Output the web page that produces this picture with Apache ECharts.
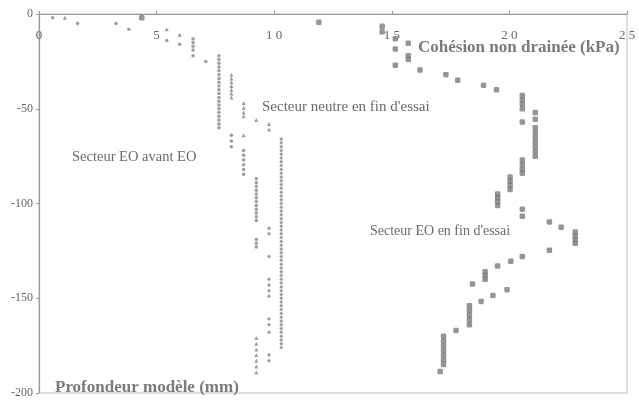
<!DOCTYPE html>
<html><head><meta charset="utf-8">
<script src="https://cdn.jsdelivr.net/npm/echarts@6/dist/echarts.min.js"></script>
<style>html,body{margin:0;padding:0;background:#fff}#c{width:639px;height:400px}</style>
</head><body><div id="c"></div>
<script>
// X tick labels
var xTicks = [0, 5, 10, 15, 20, 25];
var yTicks = [0, -50, -100, -150, -200];

// Secteur EO avant EO (small dots)
var avantX = [0.58,1.64,3.27,3.82,5.43,5.98,6.55,6.55,6.55,6.55,6.55,7.09,
  7.65,7.65,7.65,7.65,7.65,7.65,7.65,7.65,7.65,7.65,7.65,7.65,7.65,7.65,7.65,7.65,7.65,7.65,7.65,7.65,
  8.18,8.18,8.18,
  8.7,8.7,8.7,8.7,8.7,8.7,
  9.24,9.24,9.24,9.24,9.24,9.24,9.24,9.24,9.24,9.24,9.24,9.24,
  9.24,9.24,9.24];
var avantY = [-2,-5,-5,-8,-14,-16,-13,-15,-17,-19,-22,-25,
  -22,-24,-26,-28,-30,-32,-34,-36,-38,-40,-42,-44,-46,-48,-50,-52,-54,-56,-58,-60,
  -64,-67,-70,
  -72,-74.5,-77,-79.5,-82,-84.5,
  -87,-89,-91,-93,-95,-97,-99,-101,-103,-105,-107,-109,
  -119,-121,-123];

// Secteur neutre en fin d'essai (small triangles)
var neutreX = [1.1,5.43,5.98,
  8.18,8.18,8.18,8.18,8.18,8.18,8.18,
  8.7,8.7,8.7,8.7,
  9.24,9.78,9.78,8.7,
  9.24,9.24,9.24,9.24,9.24,9.24,9.24];
var neutreY = [-2,-8,-11,
  -32,-34,-36,-38,-40,-42,-44,
  -47,-49.5,-52,-54,
  -56,-58,-61,-64,
  -171,-174,-177,-180,-183,-186,-189];

// Third marker family (small crosses)
var croixX = [9.78,9.78,9.78,9.78,9.78,9.78,9.78,9.78,9.78,9.78,9.78,9.78,
  10.3,10.3,10.3,10.3,10.3,10.3,10.3,10.3,10.3,10.3,10.3,10.3,10.3,10.3,10.3,10.3,10.3,10.3,10.3,10.3,
  10.3,10.3,10.3,10.3,10.3,10.3,10.3,10.3,10.3,10.3,10.3,10.3,10.3,10.3,10.3,10.3,10.3,10.3,10.3,10.3,
  10.3,10.3,10.3,10.3,10.3,10.3,10.3,10.3,10.3,10.3,10.3,10.3,10.3,10.3,10.3,10.3];
var croixY = [-113,-116,-128,-140,-143,-146,-149,-161,-164,-168,-180,-183,
  -66,-68,-70,-72,-74,-76,-78,-80,-82,-84,-86,-88,-90,-92,-94,-96,-98,-100,-102,-104,
  -106,-108,-110,-112,-114,-116,-118,-120,-122,-124,-126,-128,-130,-132,-134,-136,-138,-140,-142,-144,
  -146,-148,-150,-152,-154,-156,-158,-160,-162,-164,-166,-168,-170,-172,-174,-176];

// Secteur EO en fin d'essai (squares)
var finX = [4.37,11.9,14.59,14.59,15.15,15.15,15.7,15.7,15.7,15.15,16.2,17.3,17.8,18.9,19.45,
  20.55,20.55,20.55,20.55,20.55,21.1,21.1,
  21.1,21.1,21.1,21.1,21.1,21.1,21.1,
  20.55,20.55,20.55,20.55,
  20.03,20.03,20.03,20.03,
  19.5,19.5,19.5,19.5,
  20.55,20.55,21.7,22.2,22.8,22.8,22.8,22.8,21.7,20.55,20.06,19.5,
  18.97,18.97,18.97,18.43,19.9,19.3,18.8,
  18.3,18.3,18.3,18.3,18.3,17.73,
  17.2,17.2,17.2,17.2,17.2,17.2,17.2,17.06];
var finY = [-2,-4.4,-6.5,-9.4,-13,-18.5,-15.5,-22,-24,-27,-29.6,-32,-35,-37.6,-40,
  -43,-45.3,-47.6,-50,-57,-52,-55.6,
  -60,-62.5,-65,-67.5,-70,-72.5,-75,
  -77,-79.5,-82,-84,
  -86,-88.3,-90.5,-92.6,
  -95,-97,-99,-101,
  -103,-106.7,-109.7,-112.5,-115,-117,-119,-121,-124.7,-128,-130.5,-133,
  -136,-138,-140,-142.5,-145.5,-148.5,-151.7,
  -154,-156.5,-159,-161.5,-164,-167,
  -170,-172.5,-175,-177.5,-180,-182.5,-185,-188.7];

function pairs(xs, ys) { return xs.map(function (x, i) { return [x, ys[i]]; }); }

var chart = echarts.init(document.getElementById('c'), null, {renderer: 'canvas'});
var serif = '"Liberation Serif", "DejaVu Serif", serif';
chart.setOption({
  animation: false,
  backgroundColor: '#fff',
  grid: {left: 39, top: 14, right: 12, bottom: 7, show: true, borderColor: '#bdbdbd', borderWidth: 1},
  xAxis: {
    type: 'value', position: 'top', min: xTicks[0], max: xTicks[xTicks.length - 1], interval: 5,
    axisLine: {lineStyle: {color: '#9a9a9a', width: 1.2}},
    axisTick: {show: true, length: 3, lineStyle: {color: '#9a9a9a'}},
    axisLabel: {inside: true, margin: 15, color: '#666', fontFamily: serif, fontSize: 13,
      formatter: function (v) { return String(v).split('').join(' '); }},
    splitLine: {show: false}
  },
  yAxis: {
    type: 'value', min: yTicks[yTicks.length - 1], max: yTicks[0], interval: 50,
    axisLine: {show: true, lineStyle: {color: '#9a9a9a', width: 1.2}},
    axisTick: {show: true, length: 3, lineStyle: {color: '#9a9a9a'}},
    axisLabel: {color: '#666', fontFamily: serif, fontSize: 12, margin: 6},
    splitLine: {show: false}
  },
  series: [
    {name: 'Secteur EO avant EO', type: 'scatter', symbol: 'circle', symbolSize: 3.5,
      itemStyle: {color: '#858585'}, data: pairs(avantX, avantY)},
    {name: "Secteur neutre en fin d'essai", type: 'scatter', symbol: 'triangle', symbolSize: 4,
      itemStyle: {color: '#858585'}, data: pairs(neutreX, neutreY)},
    {name: 'croix', type: 'scatter', symbol: 'diamond', symbolSize: 4,
      itemStyle: {color: '#858585'}, data: pairs(croixX, croixY)},
    {name: "Secteur EO en fin d'essai", type: 'scatter', symbol: 'roundRect', symbolSize: 5.5,
      itemStyle: {color: '#7a7a7a'}, data: pairs(finX, finY)}
  ],
  graphic: [
    {type: 'text', left: 418, top: 39, style: {text: 'Cohésion non drainée (kPa)', fill: '#7a7a7a',
      font: 'bold 17px ' + serif}},
    {type: 'text', left: 55, top: 379, style: {text: 'Profondeur modèle (mm)', fill: '#7a7a7a',
      font: 'bold 17px ' + serif}},
    {type: 'text', left: 262, top: 100, style: {text: "Secteur neutre en fin d'essai", fill: '#6a6a6a',
      font: '15px ' + serif}},
    {type: 'text', left: 72, top: 150, style: {text: 'Secteur EO avant EO', fill: '#6a6a6a',
      font: '14.5px ' + serif}},
    {type: 'text', left: 370, top: 224, style: {text: "Secteur EO en fin d'essai", fill: '#6a6a6a',
      font: '14px ' + serif}}
  ]
});
</script></body></html>
